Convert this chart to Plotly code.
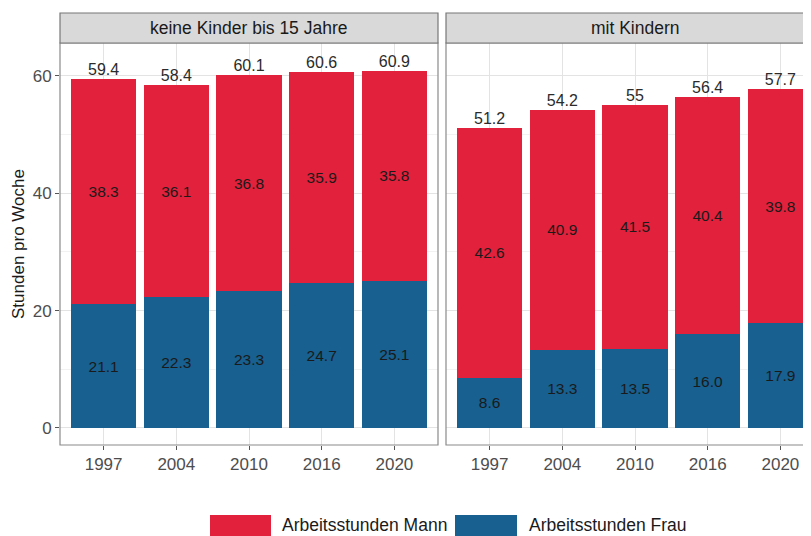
import plotly.graph_objects as go

years = ["1997", "2004", "2010", "2016", "2020"]
panels = ["keine Kinder bis 15 Jahre", "mit Kindern"]
frau_ohne = [21.1, 22.3, 23.3, 24.7, 25.1]
mann_ohne = [38.3, 36.1, 36.8, 35.9, 35.8]
frau_mit = [8.6, 13.3, 13.5, 16.0, 17.9]
mann_mit = [42.6, 40.9, 41.5, 40.4, 39.8]
series_names = ["Arbeitsstunden Mann", "Arbeitsstunden Frau"]

RED = "#E2213C"
BLUE = "#17608F"
FONT = "Liberation Sans, Arial, sans-serif"
# the page puts the figure 8px in from the top-left corner
OFF = 8
W, H = 811 - OFF, 536 - OFF

fig = go.Figure()

data = [(frau_ohne, mann_ohne), (frau_mit, mann_mit)]
for i, (frau, mann) in enumerate(data):
    xa = "x" if i == 0 else "x2"
    ya = "y" if i == 0 else "y2"
    fig.add_trace(go.Bar(
        x=years, y=frau, name=series_names[1], marker=dict(color=BLUE, line=dict(width=0)),
        width=0.9, text=[f"{v:.1f}" for v in frau], textposition="inside",
        insidetextanchor="middle", textangle=0,
        textfont=dict(size=15.5, color="#1a1a1a", family=FONT),
        xaxis=xa, yaxis=ya, showlegend=False, hoverinfo="skip"))
    fig.add_trace(go.Bar(
        x=years, y=mann, name=series_names[0], marker=dict(color=RED, line=dict(width=0)),
        width=0.9, text=[f"{v:.1f}" for v in mann], textposition="inside",
        insidetextanchor="middle", textangle=0,
        textfont=dict(size=15.5, color="#1a1a1a", family=FONT),
        xaxis=xa, yaxis=ya, showlegend=False, hoverinfo="skip"))
    totals = [round(f + m, 1) for f, m in zip(frau, mann)]
    fig.add_trace(go.Scatter(
        x=years, y=totals, mode="text", text=[f"{t:g}" for t in totals],
        textposition="top center", textfont=dict(size=16, color="#2b2b2b", family=FONT),
        xaxis=xa, yaxis=ya, showlegend=False, hoverinfo="skip", cliponaxis=False))

# geometry (reference pixel positions, shifted by the page offset)
def px_x(p):
    return (p - OFF) / W

def px_y(p):
    return (H - (p - OFF)) / H

L1, R1 = 60, 438
L2, R2 = 446, 824
TOP, BOT = 43, 445
STRIP_TOP = 13
unit = (R1 - L1) / 5.2

yr = [-2.9, 65.6]
common_y = dict(range=yr, tickvals=[0, 20, 40, 60],
                showgrid=True, gridcolor="#e3e3e3", gridwidth=1,
                minor=dict(tickvals=[10, 30, 50], showgrid=True, gridcolor="#f2f2f2", gridwidth=0.6),
                zeroline=False, showline=False,
                tickfont=dict(size=17, color="#4d4d4d", family=FONT))
common_x = dict(type="category", ticks="outside", ticklen=4, tickcolor="#555", tickwidth=1,
                showgrid=True, gridcolor="#e3e3e3", gridwidth=1, zeroline=False, showline=False,
                tickfont=dict(size=17, color="#4d4d4d", family=FONT))

fig.update_layout(
    width=W, height=H, margin=dict(l=0, r=0, t=0, b=0),
    paper_bgcolor="white", plot_bgcolor="white", barmode="stack", bargap=0.1,
    font=dict(family=FONT),
    xaxis=dict(domain=[px_x(L1), px_x(R1)], range=[-0.6, 4.6], anchor="y", **common_x),
    xaxis2=dict(domain=[px_x(L2), 1.0], range=[-0.6, -0.6 + (811 - L2) / unit], anchor="y2", **common_x),
    yaxis=dict(domain=[px_y(BOT), px_y(TOP)], anchor="x", ticks="outside", ticklen=4,
               tickcolor="#555", tickwidth=1, **common_y),
    yaxis2=dict(domain=[px_y(BOT), px_y(TOP)], anchor="x2", showticklabels=False, ticks="",
                **common_y),
)

shapes = []
annotations = []
BORDER = "#8a8a8a"
# panel borders
shapes.append(dict(type="rect", xref="paper", yref="paper", x0=px_x(L1), x1=px_x(R1),
                   y0=px_y(BOT), y1=px_y(TOP), line=dict(color=BORDER, width=1.2), layer="above"))
shapes.append(dict(type="path", xref="paper", yref="paper",
                   path=f"M 1.02 {px_y(TOP)} L {px_x(L2)} {px_y(TOP)} L {px_x(L2)} {px_y(BOT)} L 1.02 {px_y(BOT)}",
                   line=dict(color=BORDER, width=1.2), layer="above"))
# strips
for (l, r), label in zip([(L1, R1), (L2, R2)], panels):
    shapes.append(dict(type="rect", xref="paper", yref="paper", x0=px_x(l), x1=px_x(r),
                       y0=px_y(TOP), y1=px_y(STRIP_TOP), fillcolor="#d9d9d9",
                       line=dict(color="#777", width=1.2), layer="above"))
    annotations.append(dict(xref="paper", yref="paper", x=px_x((l + r) / 2),
                            y=px_y((TOP + STRIP_TOP) / 2), text=label, showarrow=False,
                            font=dict(size=17.5, color="#1a1a1a", family=FONT),
                            xanchor="center", yanchor="middle"))

# y axis title
annotations.append(dict(xref="paper", yref="paper", x=px_x(18), y=px_y((TOP + BOT) / 2),
                        text="Stunden pro Woche", textangle=-90, showarrow=False,
                        font=dict(size=17, color="#1a1a1a", family=FONT),
                        xanchor="center", yanchor="middle"))

# legend (custom keys)
legend_items = [(series_names[0], RED, 210, 271, 280), (series_names[1], BLUE, 455, 517, 527)]
for name, col, k0, k1, tx in legend_items:
    shapes.append(dict(type="rect", xref="paper", yref="paper", x0=px_x(k0), x1=px_x(k1),
                       y0=px_y(540), y1=px_y(515), fillcolor=col, line=dict(width=0)))
    annotations.append(dict(xref="paper", yref="paper", x=px_x(tx), y=px_y(525), text=name,
                            showarrow=False, xanchor="left", yanchor="middle",
                            font=dict(size=17.5, color="#1a1a1a", family=FONT)))

fig.update_layout(shapes=shapes, annotations=annotations)
fig.write_html("out.html")
